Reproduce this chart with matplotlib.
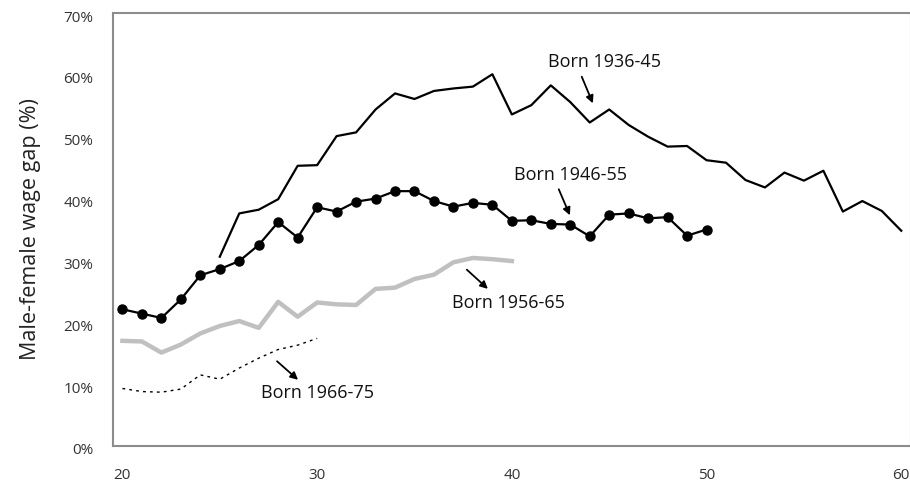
import matplotlib
matplotlib.use('Agg')
import matplotlib.pyplot as plt
import matplotlib.transforms as mtransforms
import numpy as np

plt.rcParams['font.family'] = ['Open Sans', 'DejaVu Sans']

# ages and wage gap (%) per birth cohort
age_3645 = list(range(25, 61))
gap_3645 = [30.6, 37.6, 38.2, 39.9, 45.3, 45.4, 50.1, 50.7, 54.4, 57.0, 56.1, 57.4,
            57.8, 58.1, 60.1, 53.6, 55.1, 58.3, 55.6, 52.3, 54.4, 51.9, 50.0, 48.4,
            48.5, 46.2, 45.8, 43.0, 41.8, 44.2, 42.9, 44.5, 37.9, 39.6, 38.0, 34.8]

age_4655 = list(range(20, 51))
gap_4655 = [22.1, 21.4, 20.7, 23.7, 27.6, 28.6, 29.9, 32.5, 36.2, 33.7, 38.6, 37.9,
            39.5, 40.0, 41.2, 41.2, 39.6, 38.7, 39.3, 39.0, 36.4, 36.5, 35.9, 35.8,
            33.9, 37.4, 37.6, 36.8, 37.0, 34.0, 35.0]

age_5665 = list(range(20, 41))
gap_5665 = [17.0, 16.9, 15.1, 16.4, 18.2, 19.4, 20.2, 19.1, 23.3, 20.9, 23.2, 22.9,
            22.8, 25.4, 25.6, 27.0, 27.7, 29.7, 30.4, 30.2, 29.9]

age_6675 = list(range(20, 31))
gap_6675 = [9.3, 8.8, 8.7, 9.2, 11.5, 10.8, 12.6, 14.2, 15.6, 16.3, 17.4]

fig = plt.figure(figsize=(9.1, 4.83), dpi=100)
ax = fig.add_axes([112.7 / 910, 1 - 446 / 483, (911 - 112.7) / 910, 433 / 483])

ax.plot(age_3645, gap_3645, color='black', lw=1.6)
ax.plot(age_4655, gap_4655, color='black', lw=1.6, marker='o', ms=6.5)
ax.plot(age_5665, gap_5665, color='#c0c0c0', lw=3.2)
ax.plot(age_6675, gap_6675, color='black', lw=1.0, linestyle=(0, (2, 3)))

arrow = dict(arrowstyle='-|>', color='black', lw=1.3, mutation_scale=11, shrinkA=0, shrinkB=0)
ax.annotate('', xy=(44.16, 55.4), xytext=(43.59, 59.7), arrowprops=arrow)
ax.annotate('', xy=(42.98, 37.3), xytext=(42.41, 41.5), arrowprops=arrow)
ax.annotate('', xy=(38.77, 25.4), xytext=(37.69, 28.5), arrowprops=arrow)
ax.annotate('', xy=(29.02, 10.7), xytext=(27.94, 13.7), arrowprops=arrow)

fs = 13
ax.text(44.77, 62.1, 'Born 1936-45', ha='center', va='center', fontsize=fs, color='#111111')
ax.text(43.03, 43.8, 'Born 1946-55', ha='center', va='center', fontsize=fs, color='#111111')
ax.text(39.85, 23.1, 'Born 1956-65', ha='center', va='center', fontsize=fs, color='#111111')
ax.text(30.02, 8.6, 'Born 1966-75', ha='center', va='center', fontsize=fs, color='#111111')

ax.set_xlim(19.5, 60.5)
ax.set_ylim(0, 70)
ax.set_xticks([20, 30, 40, 50, 60])
ax.set_yticks(np.arange(0, 71, 10))
ax.set_yticklabels([f'{v}%' for v in range(0, 71, 10)])
ax.tick_params(length=0, labelsize=11, labelcolor='#333333')
ax.tick_params(axis='y', pad=14)
ax.tick_params(axis='x', pad=16)
shift = mtransforms.ScaledTranslation(0, -3 / 100, fig.dpi_scale_trans)
for lab in ax.get_yticklabels():
    lab.set_transform(lab.get_transform() + shift)
for s in ax.spines.values():
    s.set_color('#8c8c8c')
    s.set_linewidth(1.5)
ax.set_ylabel('Male-female wage gap (%)', fontsize=15.5, color='#222222', labelpad=16)

fig.savefig('out.png', dpi=100)
